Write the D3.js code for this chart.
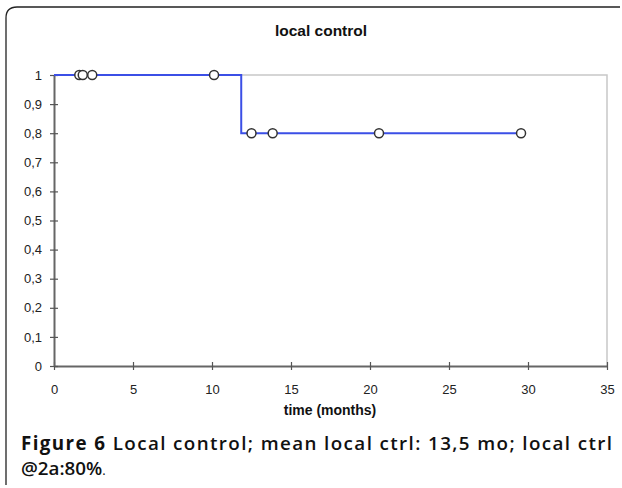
<!DOCTYPE html>
<html>
<head>
<meta charset="utf-8">
<script src="https://cdn.jsdelivr.net/npm/d3@7"></script>
<style>
  body { margin: 0; background: #fff; }
  svg { display: block; }
</style>
</head>
<body>
<svg id="chart" width="622" height="488"></svg>
<script>
// Kaplan-Meier style step curve for local control
var stepTimes = [0, 11.85, 29.6];
var stepValues = [1, 0.8, 0.8];
var censorTimes = [1.6, 1.82, 2.42, 10.13, 12.5, 13.84, 20.57, 29.56];
var xTicks = [0, 5, 10, 15, 20, 25, 30, 35];
var yTicks = [0, 0.1, 0.2, 0.3, 0.4, 0.5, 0.6, 0.7, 0.8, 0.9, 1];

var svg = d3.select('#chart');

// value at time t from the step data
function survAt(t) {
    var v = stepValues[0];
    for (var i = 0; i < stepTimes.length; i++) {
        if (t >= stepTimes[i]) { v = stepValues[i]; }
    }
    return v;
}

// outer frame: only left and top edges, rounded corner
svg.append('path')
    .attr('d', 'M6,485 L6,18 Q6,7 17,7 L620,7')
    .attr('fill', 'none')
    .attr('stroke', '#222')
    .attr('stroke-width', 1.3);

var x = d3.scaleLinear().domain([0, 35]).range([54, 607]);
var y = d3.scaleLinear().domain([0, 1]).range([366, 75]);

// light box on top and right
svg.append('path')
    .attr('d', 'M' + x(0) + ',' + y(1) + ' L' + x(35) + ',' + y(1) + ' L' + x(35) + ',' + y(0))
    .attr('fill', 'none')
    .attr('stroke', '#c8c8c8')
    .attr('stroke-width', 1.5);

var tickFont = 'Liberation Sans, Arial, sans-serif';

// axes
var xAxis = d3.axisBottom(x).tickValues(xTicks).tickSizeInner(0).tickSizeOuter(0).tickFormat(d3.format('d'));
var gx = svg.append('g').attr('transform', 'translate(0,' + y(0) + ')').call(xAxis);
gx.select('.domain').attr('stroke', '#666').attr('stroke-width', 2);
gx.selectAll('.tick line').attr('y1', -4).attr('y2', 4).attr('stroke', '#555').attr('stroke-width', 1.2);
gx.selectAll('.tick text')
    .attr('y', 19)
    .attr('fill', '#222')
    .style('font-family', tickFont)
    .style('font-size', '13px');

var yAxis = d3.axisLeft(y).tickValues(yTicks).tickSizeInner(0).tickSizeOuter(0)
    .tickFormat(function(d) { return d3.format('.1~f')(d).replace('.', ','); });
var gy = svg.append('g').attr('transform', 'translate(' + x(0) + ',0)').call(yAxis);
gy.select('.domain').attr('stroke', '#666').attr('stroke-width', 2);
gy.selectAll('.tick line').attr('x1', -4).attr('x2', 4).attr('stroke', '#555').attr('stroke-width', 1.2);
gy.selectAll('.tick text')
    .attr('x', -12)
    .attr('fill', '#222')
    .style('font-family', tickFont)
    .style('font-size', '13px');

// step line
var line = d3.line()
    .curve(d3.curveStepAfter)
    .x(function(d, i) { return x(stepTimes[i]); })
    .y(function(d) { return y(d); });

svg.append('path')
    .datum(stepValues)
    .attr('d', line)
    .attr('fill', 'none')
    .attr('stroke', '#3b4fe6')
    .attr('stroke-width', 2);

// censor marks
svg.selectAll('.censor')
    .data(censorTimes)
    .enter()
    .append('circle')
    .attr('class', 'censor')
    .attr('cx', function(d) { return x(d); })
    .attr('cy', function(d) { return y(survAt(d)); })
    .attr('r', 4.5)
    .attr('fill', '#fff')
    .attr('stroke', '#333')
    .attr('stroke-width', 1.5);

// titles
svg.append('text')
    .attr('x', 321).attr('y', 36)
    .attr('text-anchor', 'middle')
    .style('font-family', tickFont)
    .style('font-weight', 'bold')
    .style('font-size', '15.5px')
    .attr('fill', '#111')
    .text('local control');

svg.append('text')
    .attr('x', 330).attr('y', 415)
    .attr('text-anchor', 'middle')
    .style('font-family', tickFont)
    .style('font-weight', 'bold')
    .style('font-size', '14px')
    .attr('fill', '#111')
    .text('time (months)');

// caption, first line stretched to the full width
var capFont = '"Open Sans", "Noto Sans", sans-serif';
var capLeft = 21, capRight = 612;
var cap1 = svg.append('text')
    .attr('x', capLeft).attr('y', 450)
    .attr('textLength', capRight - capLeft)
    .attr('lengthAdjust', 'spacing')
    .style('font-family', capFont)
    .style('font-size', '18.8px')
    .style('font-weight', 600)
    .attr('fill', '#111');
cap1.append('tspan').style('font-weight', 'bold').text('Figure 6');
cap1.append('tspan').text(' Local control; mean local ctrl: 13,5 mo; local ctrl');

var cap2 = svg.append('text')
    .attr('x', capLeft).attr('y', 475)
    .style('font-family', capFont)
    .style('font-size', '18.8px')
    .style('font-weight', 600)
    .attr('fill', '#111');
cap2.append('tspan').text('@2a:80%');
cap2.append('tspan').style('font-size', '13px').style('font-weight', 400).text('.');
</script>
</body>
</html>
